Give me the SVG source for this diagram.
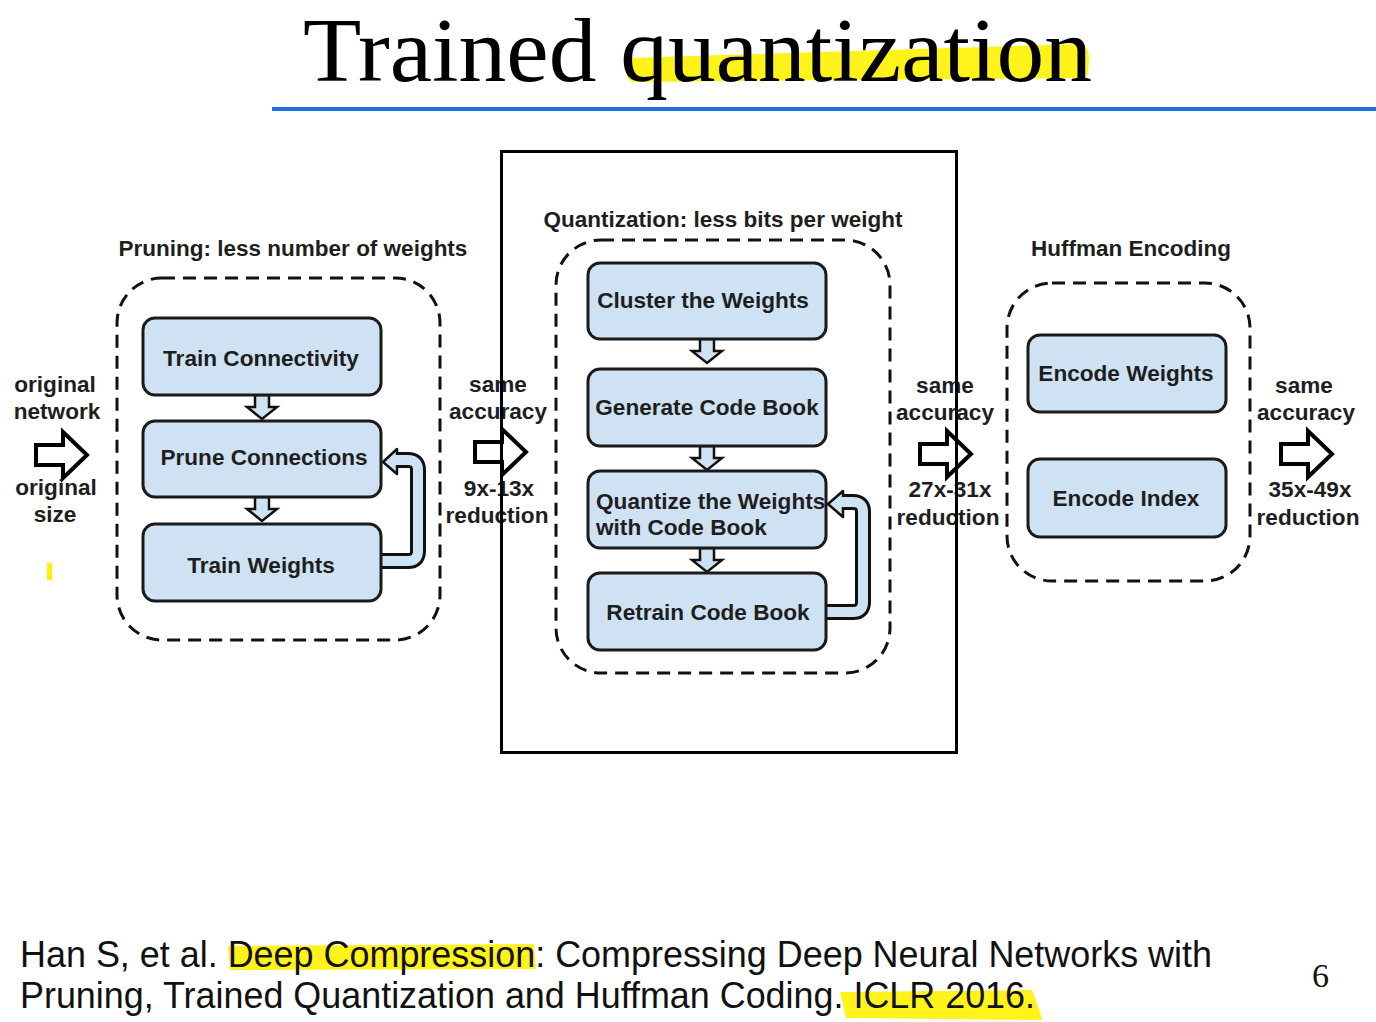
<svg xmlns="http://www.w3.org/2000/svg" width="1376" height="1022" viewBox="0 0 1376 1022">
<style>
.box{fill:#cfe2f3;stroke:#1a1a1a;stroke-width:3}
.dash{fill:none;stroke:#111;stroke-width:3;stroke-dasharray:13 8}
.lbl{font-family:"Liberation Sans",Arial,sans-serif;font-weight:bold;font-size:22.6px;fill:#1e1e1e;text-anchor:middle}
.ttl{font-family:"Liberation Sans",Arial,sans-serif;font-weight:bold;font-size:22.5px;fill:#1e1e1e;text-anchor:middle}
.side{font-family:"Liberation Sans",Arial,sans-serif;font-weight:bold;font-size:22.6px;fill:#1e1e1e;text-anchor:middle}
.bigarrow{fill:#fff;stroke:#000;stroke-width:4;stroke-linejoin:miter}
.down{fill:#cfe2f3;stroke:#111;stroke-width:2.5}
.hl{fill:#fff200;opacity:0.9}
.foot{font-family:"Liberation Sans",Arial,sans-serif;font-size:36px;fill:#111}
</style>
<defs>
<polygon id="rarrow" class="bigarrow" points="0,-10 27,-10 27,-23 51,0 27,23 27,10 0,10"/>
<polygon id="darrow" class="down" points="-7,0 7,0 7,12 15,12 0,24 -15,12 -7,12"/>
</defs>
<rect width="1376" height="1022" fill="#fff"/>

<!-- Title -->
<g id="title">
<path class="hl" d="M628,58 L1080,44 Q1090,46 1089,60 L1088,74 Q1086,78 1078,78 L634,82 Q626,80 626,70 Z"/>
<text x="303" y="81" font-family="Liberation Serif,'Times New Roman',serif" font-size="91" fill="#000" textLength="789" lengthAdjust="spacingAndGlyphs">Trained quantization</text>
<rect x="272" y="107" width="1104" height="4" fill="#1f6fe6"/>
</g>

<!-- Group titles -->
<text class="ttl" x="293" y="256">Pruning: less number of weights</text>
<text class="ttl" x="723" y="227">Quantization: less bits per weight</text>
<text class="ttl" x="1131" y="256">Huffman Encoding</text>

<!-- Dashed group outlines -->
<g id="groups">
<rect id="g-pruning" class="dash" x="117" y="278" width="323" height="362" rx="45"/>
<rect id="g-quant" class="dash" x="556" y="240" width="334" height="433" rx="45"/>
<rect id="g-huffman" class="dash" x="1007" y="283" width="243" height="298" rx="45"/>
</g>

<!-- Connectors -->
<g id="connectors">
<use href="#darrow" x="262" y="395"/>
<use href="#darrow" x="262" y="497"/>
<use href="#darrow" x="707" y="339"/>
<use href="#darrow" x="707" y="446"/>
<use href="#darrow" x="707" y="548"/>
<!-- loop left -->
<path d="M379,561 H408 Q418,561 418,551 V470 Q418,460 408,460 H396" fill="none" stroke="#111" stroke-width="16" stroke-linejoin="round"/>
<polygon points="383,462 397,449 397,474" fill="#cfe2f3" stroke="#111" stroke-width="2.5" stroke-linejoin="round"/>
<path d="M379,561 H408 Q418,561 418,551 V470 Q418,460 408,460 H394" fill="none" stroke="#cfe2f3" stroke-width="10" stroke-linejoin="round"/>
<!-- loop middle -->
<path d="M824,612 H853 Q863,612 863,602 V512 Q863,502 853,502 H842" fill="none" stroke="#111" stroke-width="16" stroke-linejoin="round"/>
<polygon points="828,504 843,491 843,517" fill="#cfe2f3" stroke="#111" stroke-width="2.5" stroke-linejoin="round"/>
<path d="M824,612 H853 Q863,612 863,602 V512 Q863,502 853,502 H840" fill="none" stroke="#cfe2f3" stroke-width="10" stroke-linejoin="round"/>
<!-- big stage arrows -->
<use href="#rarrow" x="36" y="455"/>
<use href="#rarrow" x="475" y="452"/>
<use href="#rarrow" x="920" y="454"/>
<use href="#rarrow" x="1281" y="454"/>
</g>

<!-- Nodes -->
<g id="n-train-connectivity"><rect class="box" x="143" y="318" width="238" height="77" rx="12"/><text class="lbl" x="261" y="366">Train Connectivity</text></g>
<g id="n-prune-connections"><rect class="box" x="143" y="421" width="238" height="76" rx="12"/><text class="lbl" x="264" y="465">Prune Connections</text></g>
<g id="n-train-weights"><rect class="box" x="143" y="524" width="238" height="77" rx="12"/><text class="lbl" x="261" y="573">Train Weights</text></g>

<g id="n-cluster"><rect class="box" x="588" y="263" width="238" height="76" rx="12"/><text class="lbl" x="703" y="308">Cluster the Weights</text></g>
<g id="n-generate"><rect class="box" x="588" y="369" width="238" height="77" rx="12"/><text class="lbl" x="707" y="415">Generate Code Book</text></g>
<g id="n-quantize"><rect class="box" x="588" y="471" width="238" height="77" rx="12"/><text class="lbl" x="596" y="509" style="text-anchor:start">Quantize the Weights</text><text class="lbl" x="596" y="535" style="text-anchor:start">with Code Book</text></g>
<g id="n-retrain"><rect class="box" x="588" y="573" width="238" height="77" rx="12"/><text class="lbl" x="708" y="620">Retrain Code Book</text></g>

<g id="n-encode-weights"><rect class="box" x="1028" y="335" width="198" height="77" rx="12"/><text class="lbl" x="1126" y="381">Encode Weights</text></g>
<g id="n-encode-index"><rect class="box" x="1028" y="459" width="198" height="78" rx="12"/><text class="lbl" x="1126" y="506">Encode Index</text></g>

<!-- Side labels -->
<g id="side-labels">
<text class="side" x="55" y="392">original</text>
<text class="side" x="57" y="419">network</text>
<text class="side" x="56" y="495">original</text>
<text class="side" x="55" y="522">size</text>
<text class="side" x="498" y="392">same</text>
<text class="side" x="498" y="419">accuracy</text>
<text class="side" x="499" y="496">9x-13x</text>
<text class="side" x="497" y="523">reduction</text>
<text class="side" x="945" y="393">same</text>
<text class="side" x="945" y="420">accuracy</text>
<text class="side" x="950" y="497">27x-31x</text>
<text class="side" x="948" y="525">reduction</text>
<text class="side" x="1304" y="393">same</text>
<text class="side" x="1306" y="420">accuracy</text>
<text class="side" x="1310" y="497">35x-49x</text>
<text class="side" x="1308" y="525">reduction</text>
</g>
<rect x="47" y="563" width="5" height="17" fill="#fff200"/>

<!-- Quantization frame -->
<rect id="frame" x="501.5" y="151.5" width="455" height="601" fill="none" stroke="#000" stroke-width="3"/>

<!-- Footer -->
<g id="footer">
<path class="hl" d="M228,946 L534,944 L536,969 L230,970 Z"/>
<path class="hl" d="M840,992 L1032,990 L1040,1012 L1042,1020 L846,1018 Z"/>
<text class="foot" x="20" y="967" textLength="1192" lengthAdjust="spacingAndGlyphs">Han S, et al. Deep Compression: Compressing Deep Neural Networks with</text>
<text class="foot" x="20" y="1008" textLength="1015" lengthAdjust="spacingAndGlyphs">Pruning, Trained Quantization and Huffman Coding. ICLR 2016.</text>
<text x="1312" y="987" font-family="Liberation Serif,'Times New Roman',serif" font-size="34" fill="#111">6</text>
</g>
</svg>
